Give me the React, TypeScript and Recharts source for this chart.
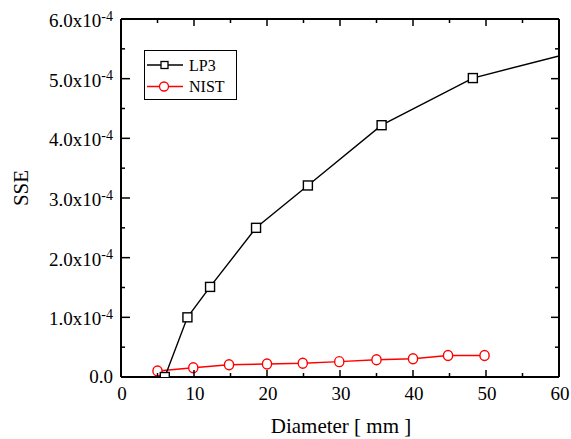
import { LineChart, Line, XAxis, YAxis } from 'recharts';

// LP3 series (last point sits on the right frame, no marker)
const lp3X = [6, 9.1, 12.2, 18.5, 25.6, 35.7, 48.2, 60];
const lp3Y = [0.0, 1.0e-4, 1.51e-4, 2.5e-4, 3.21e-4, 4.22e-4, 5.01e-4, 5.38e-4];

// NIST series
const nistX = [5, 9.9, 14.8, 20, 24.9, 29.9, 35, 40, 44.8, 49.8];
const nistY = [0.1e-4, 0.156e-4, 0.206e-4, 0.218e-4, 0.23e-4, 0.257e-4, 0.29e-4, 0.307e-4, 0.36e-4, 0.36e-4];

const xMajor = [0, 10, 20, 30, 40, 50, 60];
const xMinor = [5, 15, 25, 35, 45, 55];
const yMajor = [0, 1e-4, 2e-4, 3e-4, 4e-4, 5e-4, 6e-4];
const yMinor = [0.5e-4, 1.5e-4, 2.5e-4, 3.5e-4, 4.5e-4, 5.5e-4];

const lp3Data = lp3X.map((x, i) => ({ x, y: lp3Y[i] }));
const nistData = nistX.map((x, i) => ({ x, y: nistY[i] }));

const xTicks = [...xMajor, ...xMinor].sort((a, b) => a - b);
const yTicks = [...yMajor, ...yMinor].sort((a, b) => a - b);

const FONT = "'Liberation Serif', 'Times New Roman', Times, 'DejaVu Serif', serif";

const isMajor = (list: number[], v: number) => list.some((m) => Math.abs(m - v) < 1e-9);

const textStyle = { fontFamily: FONT };

const BottomTick = (props: any) => {
  const { x, y, payload } = props;
  const major = isMajor(xMajor, payload.value);
  return (
    <g>
      <line x1={x} x2={x} y1={y} y2={y - (major ? 7 : 4)} stroke="#000" strokeWidth={1.5} />
      {major && (
        <text x={x + 1} y={y + 23} textAnchor="middle" fontSize={19} style={textStyle} fill="#000">
          {payload.value}
        </text>
      )}
    </g>
  );
};

const TopTick = (props: any) => {
  const { x, y, payload } = props;
  const major = isMajor(xMajor, payload.value);
  return <line x1={x} x2={x} y1={y} y2={y + (major ? 7 : 4)} stroke="#000" strokeWidth={1.5} />;
};

const LeftTick = (props: any) => {
  const { x, y, payload } = props;
  const v = payload.value;
  const major = isMajor(yMajor, v);
  const m = (v / 1e-4).toFixed(1);
  return (
    <g>
      <line x1={x} x2={x + (major ? 9 : 4)} y1={y} y2={y} stroke="#000" strokeWidth={1.5} />
      {major &&
        (Math.abs(v) < 1e-12 ? (
          <text x={x - 8} y={y + 6} textAnchor="end" fontSize={19} style={textStyle} fill="#000">
            0.0
          </text>
        ) : (
          <text x={x - 8} y={y + 8} textAnchor="end" fontSize={19} style={textStyle} fill="#000">
            {m}x10
            <tspan dy={-6.5} fontSize={14}>
              -4
            </tspan>
          </text>
        ))}
    </g>
  );
};

const RightTick = (props: any) => {
  const { x, y, payload } = props;
  const major = isMajor(yMajor, payload.value);
  return <line x1={x} x2={x - (major ? 8 : 4)} y1={y} y2={y} stroke="#000" strokeWidth={1.5} />;
};

const SquareDot = (props: any) => {
  const { cx, cy, index } = props;
  if (index === lp3Data.length - 1 || cx == null) return <g key={`s${index}`} />;
  return (
    <rect key={`s${index}`} x={cx - 4.5} y={cy - 4.5} width={9} height={9} fill="#fff" stroke="#000" strokeWidth={1.4} />
  );
};

const CircleDot = (props: any) => {
  const { cx, cy, index } = props;
  if (cx == null) return <g key={`c${index}`} />;
  return <ellipse key={`c${index}`} cx={cx} cy={cy} rx={4.6} ry={5} fill="#fff" stroke="#ff0000" strokeWidth={1.4} />;
};

const LegendBox = () => (
  <div
    style={{
      position: 'absolute',
      left: 144,
      top: 50,
      width: 93,
      height: 50,
      boxSizing: 'border-box',
      border: '1.5px solid #000',
      background: '#fff',
      fontFamily: FONT,
      fontSize: 16,
    }}
  >
    <svg width={93} height={50} style={{ position: 'absolute', left: -1.5, top: -1.5 }}>
      <line x1={3} x2={39} y1={15} y2={15} stroke="#000" strokeWidth={1.4} />
      <rect x={17} y={11.5} width={7} height={7} fill="#fff" stroke="#000" strokeWidth={1.3} />
      <text x={45} y={20.5} fontSize={16} style={textStyle} fill="#000">LP3</text>
      <line x1={3} x2={39} y1={36.5} y2={36.5} stroke="#ff0000" strokeWidth={1.4} />
      <ellipse cx={20} cy={36.5} rx={4.5} ry={4.5} fill="#fff" stroke="#ff0000" strokeWidth={1.3} />
      <text x={45} y={42} fontSize={16} style={textStyle} fill="#000">NIST</text>
    </svg>
  </div>
);

export default function App() {
  return (
    <div style={{ position: 'absolute', left: 0, top: 0, width: 571, height: 439, background: '#fff', fontFamily: FONT }}>
      <LineChart width={571} height={439} margin={{ top: 0, right: 0, bottom: 0, left: 0 }} style={textStyle}>
        <XAxis
          dataKey="x"
          type="number"
          domain={[0, 60]}
          ticks={xTicks}
          interval={0}
          height={62}
          tickSize={0}
          tickMargin={0}
          tick={<BottomTick />}
          axisLine={{ stroke: '#000', strokeWidth: 2 }}
          allowDataOverflow
          label={{
            content: () => (
              <text x={341} y={433} textAnchor="middle" fontSize={21} style={textStyle} fill="#000">
                Diameter [ mm ]
              </text>
            ),
          }}
        />
        <XAxis
          xAxisId="top"
          orientation="top"
          dataKey="x"
          type="number"
          domain={[0, 60]}
          ticks={xTicks}
          interval={0}
          height={19}
          tickSize={0}
          tickMargin={0}
          tick={<TopTick />}
          axisLine={{ stroke: '#000', strokeWidth: 2 }}
          allowDataOverflow
        />
        <YAxis
          type="number"
          domain={[0, 6e-4]}
          ticks={yTicks}
          interval={0}
          width={121}
          tickSize={0}
          tickMargin={0}
          tick={<LeftTick />}
          axisLine={{ stroke: '#000', strokeWidth: 2 }}
          allowDataOverflow
          label={{
            content: () => (
              <text
                x={21}
                y={188}
                transform="rotate(-90 21 188)"
                textAnchor="middle"
                dominantBaseline="central"
                fontSize={21}
                style={textStyle}
                fill="#000"
              >
                SSE
              </text>
            ),
          }}
        />
        <YAxis
          yAxisId="right"
          orientation="right"
          type="number"
          domain={[0, 6e-4]}
          ticks={yTicks}
          interval={0}
          width={12}
          tickSize={0}
          tickMargin={0}
          tick={<RightTick />}
          axisLine={{ stroke: '#000', strokeWidth: 2 }}
          allowDataOverflow
        />
        <Line
          data={nistData}
          dataKey="y"
          stroke="#ff0000"
          strokeWidth={1.4}
          dot={<CircleDot />}
          activeDot={false}
          isAnimationActive={false}
        />
        <Line
          data={lp3Data}
          dataKey="y"
          stroke="#000"
          strokeWidth={1.4}
          dot={<SquareDot />}
          activeDot={false}
          isAnimationActive={false}
        />
      </LineChart>
      <LegendBox />
    </div>
  );
}
